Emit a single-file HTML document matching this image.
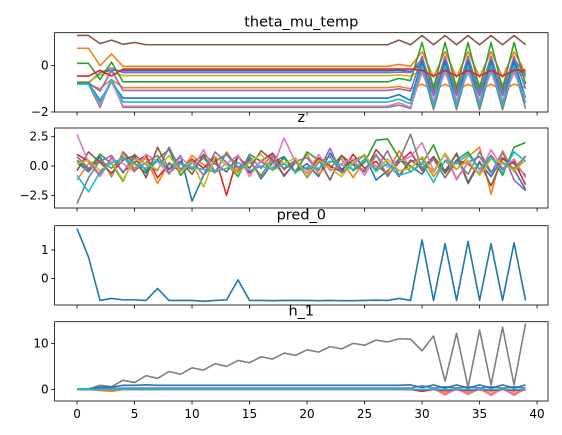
<!DOCTYPE html>
<html><head><meta charset="utf-8"><style>
html,body{margin:0;padding:0;background:#fff}
svg{display:block;font-family:"DejaVu Sans","Liberation Sans",sans-serif}
</style></head><body>
<svg id="chart" width="562" height="435" viewBox="0 0 562 435"></svg>
<script>
const xs=[...Array(40).keys()];
const xTicks=[0,5,10,15,20,25,30,35,40];
const colors=["#1f77b4","#ff7f0e","#2ca02c","#d62728","#9467bd","#8c564b","#e377c2","#7f7f7f","#bcbd22","#17becf"];
const thetaBrown=[1.3,1.3,0.95,1.1,0.92,1.0,0.9,0.9,0.9,0.9,0.9,0.9,0.9,0.9,0.9,0.9,0.9,0.9,0.9,0.9,0.9,0.9,0.9,0.9,0.9,0.9,0.9,0.9,1.1,0.9,1.3,0.9,1.3,0.9,1.3,0.9,1.3,0.9,1.3,0.9];
const thetaOrange=[0.75,0.75,0.0,0.5,-0.03,-0.03,-0.03,-0.03,-0.03,-0.03,-0.03,-0.03,-0.03,-0.03,-0.03,-0.03,-0.03,-0.03,-0.03,-0.03,-0.03,-0.03,-0.03,-0.03,-0.03,-0.03,-0.03,-0.03,0.05,-0.03,0.6,-0.5,0.6,-0.5,0.6,-0.5,0.6,-0.5,0.6,-0.3];
const thetaGreen=[0.1,0.1,-0.6,0.15,-0.7,-0.7,-0.7,-0.7,-0.7,-0.7,-0.7,-0.7,-0.7,-0.7,-0.7,-0.7,-0.7,-0.7,-0.7,-0.7,-0.7,-0.7,-0.7,-0.7,-0.7,-0.7,-0.7,-0.7,-0.55,-0.65,1.0,-1.0,1.0,-1.0,1.0,-1.0,1.0,-1.0,1.0,-0.8];
const thetaRed=[-0.45,-0.45,-0.2,-0.45,-0.15,-0.15,-0.15,-0.15,-0.15,-0.15,-0.15,-0.15,-0.15,-0.15,-0.15,-0.15,-0.15,-0.15,-0.15,-0.15,-0.15,-0.15,-0.15,-0.15,-0.15,-0.15,-0.15,-0.15,-0.15,-0.15,-0.2,-0.45,-0.2,-0.45,-0.2,-0.45,-0.2,-0.45,-0.2,-0.2];
const thetaBlue=[-0.75,-0.75,-1.5,-0.7,-1.4,-1.4,-1.4,-1.4,-1.4,-1.4,-1.4,-1.4,-1.4,-1.4,-1.4,-1.4,-1.4,-1.4,-1.4,-1.4,-1.4,-1.4,-1.4,-1.4,-1.4,-1.4,-1.4,-1.4,-1.25,-1.5,0.2,-1.6,0.2,-1.6,0.2,-1.6,0.2,-1.6,0.2,-1.4];
const thetaPurple=[-0.75,-0.75,-1.1,-0.2,-1.07,-1.07,-1.07,-1.07,-1.07,-1.07,-1.07,-1.07,-1.07,-1.07,-1.07,-1.07,-1.07,-1.07,-1.07,-1.07,-1.07,-1.07,-1.07,-1.07,-1.07,-1.07,-1.07,-1.07,-1.0,-1.1,0.4,-1.2,0.4,-1.2,0.4,-1.2,0.4,-1.2,0.4,-1.0];
const thetaGray=[-0.8,-0.8,-1.8,-0.6,-1.8,-1.8,-1.8,-1.8,-1.8,-1.8,-1.8,-1.8,-1.8,-1.8,-1.8,-1.8,-1.8,-1.8,-1.8,-1.8,-1.8,-1.8,-1.8,-1.8,-1.8,-1.8,-1.8,-1.8,-1.7,-1.85,-0.1,-1.9,-0.1,-1.9,-0.1,-1.9,-0.1,-1.9,-0.1,-1.85];
const thetaCyan=[-0.8,-0.8,-1.6,-0.6,-1.57,-1.57,-1.57,-1.57,-1.57,-1.57,-1.57,-1.57,-1.57,-1.57,-1.57,-1.57,-1.57,-1.57,-1.57,-1.57,-1.57,-1.57,-1.57,-1.57,-1.57,-1.57,-1.57,-1.57,-1.45,-1.65,0.0,-1.7,0.0,-1.7,0.0,-1.7,0.0,-1.7,0.0,-1.6];
const thetaPink=[-0.8,-0.8,-1.7,-0.7,-1.75,-1.75,-1.75,-1.75,-1.75,-1.75,-1.75,-1.75,-1.75,-1.75,-1.75,-1.75,-1.75,-1.75,-1.75,-1.75,-1.75,-1.75,-1.75,-1.75,-1.75,-1.75,-1.75,-1.75,-1.6,-1.8,-0.3,-1.5,-0.3,-1.5,-0.3,-1.5,-0.3,-1.5,-0.3,-1.4];
const thetaYellow=[-0.7,-0.7,-0.4,-0.3,-0.43,-0.43,-0.43,-0.43,-0.43,-0.43,-0.43,-0.43,-0.43,-0.43,-0.43,-0.43,-0.43,-0.43,-0.43,-0.43,-0.43,-0.43,-0.43,-0.43,-0.43,-0.43,-0.43,-0.43,-0.4,-0.45,-0.2,-0.8,-0.2,-0.8,-0.2,-0.8,-0.2,-0.8,-0.2,-0.5];
const thetaOrange2=[-0.8,-0.8,-1.0,-0.6,-0.95,-0.95,-0.95,-0.95,-0.95,-0.95,-0.95,-0.95,-0.95,-0.95,-0.95,-0.95,-0.95,-0.95,-0.95,-0.95,-0.95,-0.95,-0.95,-0.95,-0.95,-0.95,-0.95,-0.95,-0.9,-1.0,-0.8,-1.05,-0.8,-1.05,-0.8,-1.05,-0.8,-1.05,-0.8,-0.95];
const thetaBlue2=[-0.75,-0.75,-0.3,-0.2,-0.22,-0.22,-0.22,-0.22,-0.22,-0.22,-0.22,-0.22,-0.22,-0.22,-0.22,-0.22,-0.22,-0.22,-0.22,-0.22,-0.22,-0.22,-0.22,-0.22,-0.22,-0.22,-0.22,-0.22,-0.2,-0.25,0.1,-0.9,0.1,-0.9,0.1,-0.9,0.1,-0.9,0.1,-0.5];
const thetaPurple2=[-0.75,-0.75,-0.3,-0.1,-0.3,-0.3,-0.3,-0.3,-0.3,-0.3,-0.3,-0.3,-0.3,-0.3,-0.3,-0.3,-0.3,-0.3,-0.3,-0.3,-0.3,-0.3,-0.3,-0.3,-0.3,-0.3,-0.3,-0.3,-0.28,-0.3,0.3,-1.3,0.3,-1.3,0.3,-1.3,0.3,-1.3,0.3,-0.4];

const zBlue=[0.3,-0.5,0.8,-0.9,1.2,0.2,-0.6,0.5,-0.3,0.9,-3.0,-0.8,0.4,1.0,-0.2,0.6,-1.1,0.3,0.8,-0.5,0.2,-0.9,1.1,-0.3,0.5,0.9,-1.2,-0.4,0.6,0.0,-0.7,0.8,-0.4,1.0,-1.5,0.3,-0.9,0.7,-0.3,-2.0];
const zOrange=[-1.2,0.2,0.5,-0.8,1.1,-0.2,0.7,-1.5,0.3,-0.5,0.9,0.1,-0.6,1.2,-0.3,0.4,-0.9,0.8,0.2,-0.4,1.0,-0.7,0.3,0.6,-1.0,0.5,0.0,-0.6,1.3,-0.2,0.7,-0.9,0.4,-0.3,0.8,1.6,-2.4,1.3,-0.5,0.9];
const zGreen=[0.5,-0.3,1.0,0.2,-1.3,0.8,-0.4,0.6,1.4,-0.8,0.3,0.9,-0.5,0.2,-0.9,1.0,0.4,-0.3,0.7,-0.6,1.2,0.5,-0.2,0.9,-0.4,0.3,2.2,2.3,0.7,-0.5,0.2,1.8,-0.6,0.5,1.2,-0.3,0.9,-0.8,1.6,2.0];
const zRed=[1.0,0.4,-0.8,0.7,-0.5,0.3,0.9,-1.0,0.2,-0.4,0.6,-0.2,0.8,-2.5,0.9,-0.6,0.4,1.1,-0.3,0.5,-0.9,0.7,0.0,-0.5,1.0,-0.2,0.4,-0.8,0.3,1.2,-0.4,0.6,-1.0,0.5,0.2,-0.7,0.9,-0.3,0.4,-1.6];
const zPurple=[0.8,-0.2,0.4,0.9,-0.6,1.0,0.1,-0.4,1.6,-0.3,0.5,-0.8,1.2,0.3,-0.5,0.8,-0.2,1.0,-0.9,0.4,0.7,-0.4,1.5,-0.6,0.2,0.9,-0.3,1.3,-0.8,0.4,0.6,-0.5,1.0,-1.1,0.3,0.8,-0.6,1.2,-1.2,-2.1];
const zBrown=[-0.4,1.2,0.3,-0.6,0.5,0.9,-1.0,1.6,-0.3,0.4,-0.7,1.0,0.2,-0.5,0.8,-0.2,1.3,0.5,-0.8,0.3,-0.3,0.6,-1.2,0.9,0.1,-0.5,1.4,0.3,-0.9,0.5,-0.2,0.8,-0.6,1.1,-1.4,0.4,-1.7,0.6,0.2,-0.8];
const zPink=[2.7,0.3,-0.9,0.6,0.2,-0.5,1.0,0.4,-0.7,0.8,-0.3,1.4,-0.5,0.2,0.9,-0.9,0.5,-0.2,2.4,0.3,-0.6,1.0,-0.4,0.2,0.6,-0.8,0.9,-0.1,0.4,0.8,2.0,-0.4,1.0,-1.2,0.3,-0.6,1.4,-0.2,0.6,-1.0];
const zGray=[-3.2,-1.0,0.5,-0.2,0.8,-0.4,0.3,0.9,-0.6,0.2,-0.3,0.7,-0.5,1.1,-0.1,0.4,-0.8,0.6,-0.2,0.5,-1.0,0.3,0.8,-0.6,0.2,-0.4,1.0,-0.9,0.5,2.7,-0.3,0.6,-1.0,0.4,-0.7,1.2,-0.5,0.3,-0.2,0.8];
const zYellow=[0.2,0.5,-0.4,0.3,-1.2,0.6,0.2,-0.3,0.9,-0.5,0.4,-1.8,0.8,0.1,-0.6,0.3,1.0,-0.4,0.2,0.7,-0.9,0.5,-0.2,-0.9,0.3,1.0,-0.5,0.6,-0.4,-0.2,0.8,-0.6,1.1,-0.3,0.5,-0.8,0.6,0.2,-0.4,0.5];
const zCyan=[-0.8,-2.2,-0.5,0.3,0.6,0.2,-0.2,0.4,0.1,0.2,-0.1,-0.3,-0.5,-0.2,0.3,-0.4,0.0,-0.3,0.2,-0.5,-0.1,-0.2,0.4,0.1,-0.3,0.6,-0.4,0.2,-0.8,-0.5,0.3,-1.4,0.5,0.2,1.0,-0.3,0.8,-0.6,1.2,0.4];

const pred0=[1.75,0.75,-0.77,-0.7,-0.75,-0.75,-0.77,-0.35,-0.77,-0.77,-0.77,-0.8,-0.77,-0.75,-0.05,-0.77,-0.77,-0.78,-0.77,-0.77,-0.77,-0.78,-0.77,-0.78,-0.78,-0.77,-0.76,-0.77,-0.7,-0.77,1.35,-0.77,1.22,-0.77,1.3,-0.77,1.22,-0.77,1.25,-0.77];

const hGray=[0.1,0.1,0.9,0.6,2.0,1.5,3.0,2.4,3.9,3.3,4.7,4.2,5.6,5.0,6.3,5.8,7.1,6.6,7.9,7.4,8.6,8.1,9.3,8.8,10.0,9.6,10.7,10.3,11.0,10.9,8.4,11.6,1.8,12.2,0.5,12.9,1.0,13.5,1.0,14.3];
const hOrange=[0,0,-0.2,-0.4,0,0,0,0,0,0,0,0,0,0,0,0,0,0,0,0,0,0,0,0,0,0,0,0,0,0,-0.3,0,-0.8,0,-0.8,0,-0.9,0,-0.9,0];
const hPink=[0,0,0,0,0,0,0,0,0,0,0,0,0,0,0,0,0,0,0,0,0,0,0,0,0,0,0,0,0,0,-0.3,0.2,-1.2,0.2,-1.1,0.2,-1.3,0.2,-1.3,0.2];
const hRed=[0,0,0,0,0,0,0,0,0,0,0,0,0,0,0,0,0,0,0,0,0,0,0,0,0,0,0,0,0,0,-0.4,0,-0.3,0,-0.3,0,-0.3,0,-0.3,0];
const hPurple=[0,0,0.3,0.2,0.3,0.3,0.3,0.3,0.3,0.3,0.3,0.3,0.3,0.3,0.3,0.3,0.3,0.3,0.3,0.3,0.3,0.3,0.3,0.3,0.3,0.3,0.3,0.3,0.3,0.3,0.8,0.3,0.6,0.3,0.6,0.3,0.6,0.3,0.6,0.3];
const hBlue=[0.1,0.1,0.5,0.5,0.9,0.9,1.0,0.9,0.9,0.9,0.9,0.9,0.9,0.9,0.9,0.9,0.9,0.9,0.9,0.9,0.9,0.9,0.9,0.9,0.9,0.9,0.9,0.9,0.9,1.0,0.4,1.0,0.3,1.0,0.3,1.0,0.3,1.0,0.3,1.0];
const hCyan=[0,0,0,0,0,0,0,0,0,0,0,0,0,0,0,0,0,0,0,0,0,0,0,0,0,0,0,0,0,0,0,0,0,0,0,0,0,0,0,0];

const NS="http://www.w3.org/2000/svg";
const svg=document.getElementById('chart');
const X0=54.6,X1=548;const XMIN=-1.95,XMAX=40.95;
const xScale=v=>X0+(v-XMIN)/(XMAX-XMIN)*(X1-X0);
function mk(tag,attrs,parent){const e=document.createElementNS(NS,tag);for(const k in attrs)e.setAttribute(k,attrs[k]);(parent||svg).appendChild(e);return e;}

function panel(name,top,bottom,ymin,ymax,yTicks,yLabels,series,showX){
  const g=mk('g',{});
  
  
  const yScale=v=>bottom-(v-ymin)/(ymax-ymin)*(bottom-top);
  const cp=mk('clipPath',{id:'c-'+name},g);mk('rect',{x:X0,y:top,width:X1-X0,height:bottom-top},cp);
  const lg=mk('g',{'clip-path':'url(#c-'+name+')'},g);
  series.forEach((s,i)=>{
    const d=s.data.map((v,j)=>(j?'L':'M')+xScale(xs[j]).toFixed(2)+' '+yScale(v).toFixed(2)).join(' ');
    const p=mk('path',{d:d,fill:'none',stroke:s.color,'stroke-width':1.6,'stroke-linejoin':'round'},lg);
    
    
  });
  const fr=mk('rect',{x:X0,y:top,width:X1-X0,height:bottom-top,fill:'none',stroke:'#000','stroke-width':0.8},g);
  
  
  yTicks.forEach((t,i)=>{
    const y=yScale(t);
    mk('line',{x1:X0-3.5,x2:X0,y1:y,y2:y,stroke:'#000','stroke-width':0.8},g);
    const tx=mk('text',{x:X0-6,y:y+4,'text-anchor':'end','font-size':12,fill:'#000'},g);
    tx.textContent=yLabels[i];
    
    
  });
  xTicks.forEach(t=>{
    const x=xScale(t);
    mk('line',{x1:x,x2:x,y1:bottom,y2:bottom+3.5,stroke:'#000','stroke-width':0.8},g);
    if(showX){
      const tx=mk('text',{x:x,y:bottom+17,'text-anchor':'middle','font-size':12,fill:'#000'},g);
      tx.textContent=String(t);
      
      
    }
  });
  const ti=mk('text',{x:(X0+X1)/2,y:top-6,'text-anchor':'middle','font-size':14.5,fill:'#000'},g);
  ti.textContent=name;
  
  
}
const C=colors;
panel('theta_mu_temp',32.7,112,-2,1.42,[0,-2],['0','−2'],[
 {label:'brown',color:C[5],data:thetaBrown},{label:'orange',color:C[1],data:thetaOrange},
 {label:'blue2',color:C[0],data:thetaBlue2},{label:'purple2',color:C[4],data:thetaPurple2},
 {label:'yellow',color:C[8],data:thetaYellow},{label:'orange2',color:C[1],data:thetaOrange2},
 {label:'purple',color:C[4],data:thetaPurple},{label:'blue',color:C[0],data:thetaBlue},
 {label:'gray',color:C[7],data:thetaGray},{label:'pink',color:C[6],data:thetaPink},
 {label:'cyan',color:C[9],data:thetaCyan},{label:'green',color:C[2],data:thetaGreen},
 {label:'red',color:C[3],data:thetaRed}],false);
panel('z',128,208,-3.58,3.24,[2.5,0,-2.5],['2.5','0.0','−2.5'],[
 {label:'blue',color:C[0],data:zBlue},{label:'orange',color:C[1],data:zOrange},
 {label:'green',color:C[2],data:zGreen},{label:'red',color:C[3],data:zRed},
 {label:'purple',color:C[4],data:zPurple},{label:'brown',color:C[5],data:zBrown},
 {label:'pink',color:C[6],data:zPink},{label:'gray',color:C[7],data:zGray},
 {label:'yellow',color:C[8],data:zYellow},{label:'cyan',color:C[9],data:zCyan}],false);
panel('pred_0',225.7,305,-0.93,1.85,[1,0],['1','0'],[
 {label:'blue',color:C[0],data:pred0}],false);
panel('h_1',321.7,401,-2.5,14.7,[10,0],['10','0'],[
 {label:'gray',color:C[7],data:hGray},{label:'orange',color:C[1],data:hOrange},
 {label:'pink',color:C[6],data:hPink},{label:'red',color:C[3],data:hRed},
 {label:'purple',color:C[4],data:hPurple},{label:'blue',color:C[0],data:hBlue},
 {label:'cyan',color:C[9],data:hCyan}],true);
</script>
</body></html>
